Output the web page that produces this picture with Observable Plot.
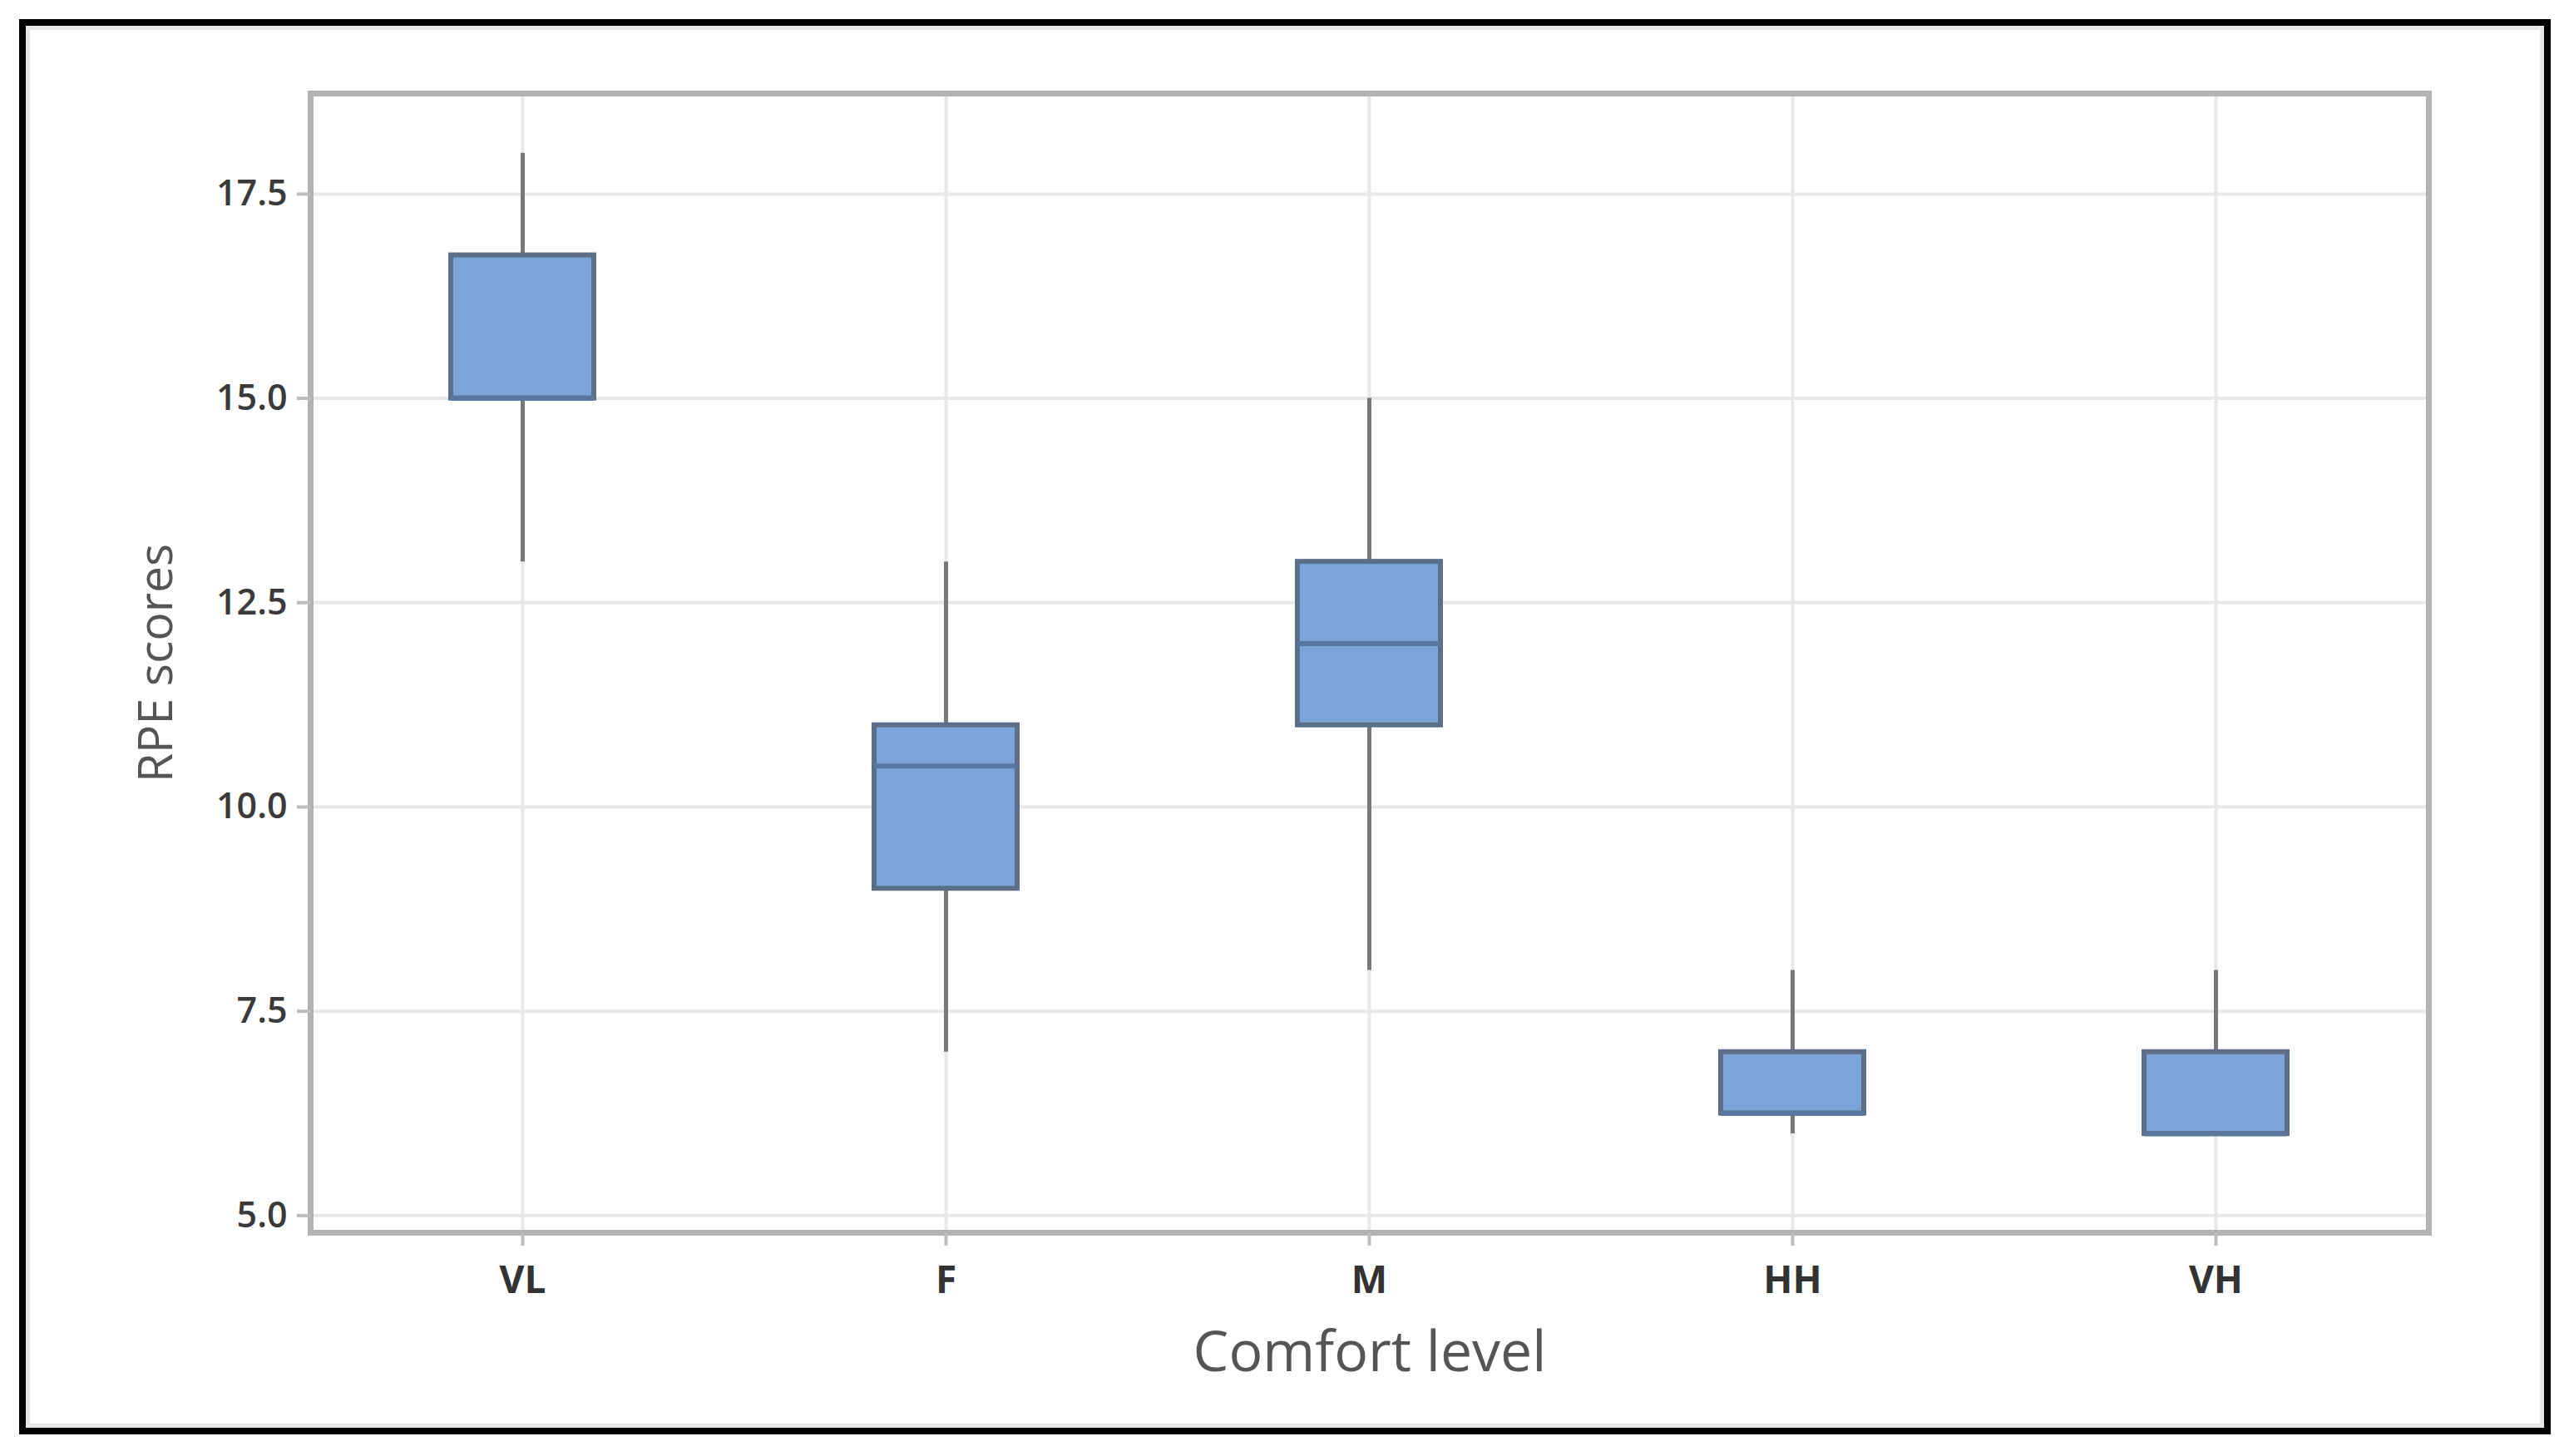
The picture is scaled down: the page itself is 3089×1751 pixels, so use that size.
<!DOCTYPE html>
<html>
<head>
<meta charset="utf-8">
<script src="https://cdn.jsdelivr.net/npm/d3@7"></script>
<script src="https://cdn.jsdelivr.net/npm/@observablehq/plot@0.6"></script>
<style>
  html, body { margin: 0; padding: 0; background: #ffffff; }
  #wrap { position: relative; width: 3089px; height: 1751px; overflow: hidden; }
  #chart { position: absolute; left: 0; top: 0; }
  #border {
    position: absolute; left: 23px; top: 23px; width: 3044px; height: 1702px;
    box-sizing: border-box; border: 8px solid #000;
    box-shadow: inset 0 0 0 5px #e6e6e6;
    pointer-events: none;
  }
</style>
</head>
<body>
<div id="wrap">
  <div id="chart"></div>
  <div id="border"></div>
</div>
<script>
// Comfort level categories and box-plot summaries (RPE scores)
const categories   = ["VL", "F", "M", "HH", "VH"];
const whiskerLow   = [13, 7, 8, 6, 6];
const quartile1    = [15, 9, 11, 6.25, 6];
const medians      = [15, 10.5, 12, 6.25, 6];
const quartile3    = [16.75, 11, 13, 7, 7];
const whiskerHigh  = [18, 13, 15, 8, 8];
const yTicks       = [5, 7.5, 10, 12.5, 15, 17.5];
const xTitle = "Comfort level";
const yTitle = "RPE scores";

const rows = categories.map((c, i) => ({
  c, lo: whiskerLow[i], q1: quartile1[i], med: medians[i], q3: quartile3[i], hi: whiskerHigh[i]
}));

const chart = Plot.plot({
  width: 3089,
  height: 1751,
  marginLeft: 373,
  marginRight: 169,
  marginTop: 112,
  marginBottom: 269,
  style: { fontFamily: "'Open Sans', 'Noto Sans', sans-serif", background: "transparent", overflow: "visible" },
  x: { domain: categories, paddingInner: 0.662, paddingOuter: 0.331, label: null },
  y: { domain: [4.79, 18.73], label: null },
  marks: [
    Plot.gridY(yTicks, { stroke: "#e8e8e8", strokeOpacity: 1, strokeWidth: 4 }),
    Plot.gridX(categories, { stroke: "#e8e8e8", strokeOpacity: 1, strokeWidth: 4 }),
    Plot.frame({ stroke: "#b3b3b3", strokeWidth: 7 }),
    Plot.axisY(yTicks, { tickSize: 16, tickPadding: 12, tickFormat: d => d.toFixed(1), label: null,
      stroke: "#bdbdbd", strokeWidth: 4, fill: "#3a3a3a", fontSize: 43, fontWeight: 600 }),
    Plot.axisX(categories, { tickSize: 16, tickPadding: 24, label: null,
      stroke: "#bdbdbd", strokeWidth: 4, fill: "#333333", fontSize: 46, fontWeight: 700 }),
    Plot.ruleX(rows, { x: "c", y1: "lo", y2: "hi", stroke: "#787878", strokeWidth: 5 }),
    Plot.barY(rows, { x: "c", y1: "q1", y2: "q3", fill: "#7ba4d9", stroke: "#5d6f88", strokeWidth: 6 }),
    Plot.tickY(rows, { x: "c", y: "med", stroke: "#5a77a0", strokeWidth: 6 }),
    Plot.text([xTitle], { text: d => d, frameAnchor: "bottom", textAnchor: "middle", dy: 166, fontSize: 68, fill: "#555555" }),
    Plot.text([yTitle], { text: d => d, frameAnchor: "left", textAnchor: "middle", dx: -185, rotate: -90, fontSize: 57, fill: "#555555" })
  ]
});

document.getElementById("chart").appendChild(chart);
</script>
</body>
</html>
